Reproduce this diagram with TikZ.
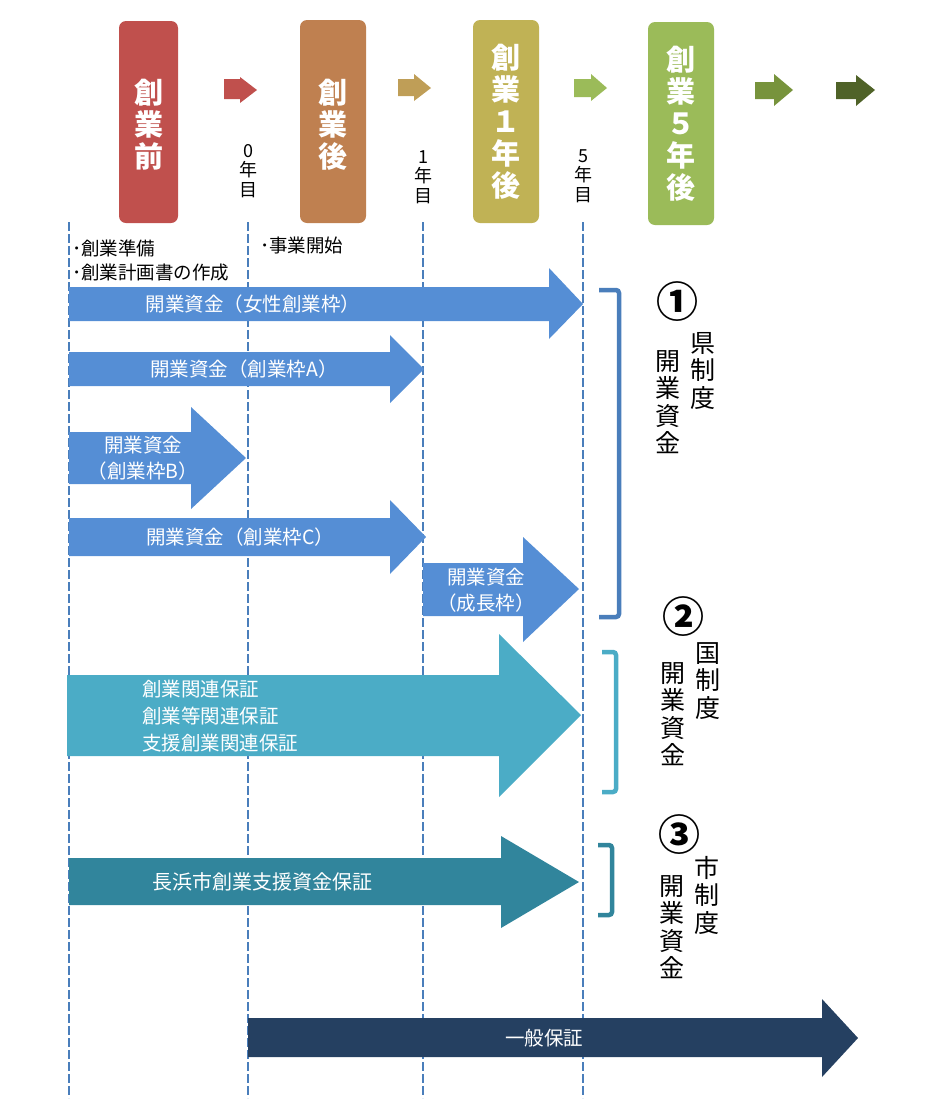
\documentclass[tikz,border=0pt]{standalone}
\usepackage{fontspec}
\setmainfont{Noto Sans CJK JP}
\definecolor{cRed}{HTML}{C0504D}
\definecolor{cBrown}{HTML}{BF8050}
\definecolor{cTan}{HTML}{BF9E57}
\definecolor{cOlive}{HTML}{C0B255}
\definecolor{cLGreen}{HTML}{9BBB59}
\definecolor{cMGreen}{HTML}{77933C}
\definecolor{cDGreen}{HTML}{4F6228}
\definecolor{cBlue}{HTML}{558ED5}
\definecolor{cTeal}{HTML}{4BACC6}
\definecolor{cDTeal}{HTML}{31859C}
\definecolor{cNavy}{HTML}{254061}
\definecolor{dashblue}{HTML}{4A7EBB}
\tikzset{
 dline/.style={draw=dashblue, line width=2.8pt, dash pattern=on 9pt off 3pt},
 stagebox/.style={rounded corners=7pt},
 boxlbl/.style={text=white, font=\bfseries\fontsize{29}{32}\selectfont, align=center, inner sep=0pt},
 yrlbl/.style={font=\fontsize{18}{19.5}\selectfont, align=center, inner sep=0pt},
 intext/.style={text=white, font=\fontsize{19.5}{26}\selectfont, align=center, inner sep=0pt},
 note/.style={font=\fontsize{18.5}{20}\selectfont, anchor=west, inner sep=0pt},
 side/.style={font=\fontsize{25}{27.5}\selectfont, align=center, inner sep=0pt},
 circ/.style={font=\bfseries\fontsize{42}{44}\selectfont, inner sep=0pt},
 brk/.style={line width=4.5pt, rounded corners=3pt},
}
\begin{document}
\begin{tikzpicture}[x=1pt,y=-1pt]
\useasboundingbox (0,0) rectangle (937,1117);
% stage boxes
\fill[cRed,stagebox] (119,21) rectangle (178,223);
\fill[cBrown,stagebox] (300,20) rectangle (366,223);
\fill[cOlive,stagebox] (473,20) rectangle (539,223);
\fill[cLGreen,stagebox] (648,22) rectangle (714,225);
\node[boxlbl] (s1) at (148.5,125) {創\\業\\前};
\node[boxlbl] (s2) at (333,125) {創\\業\\後};
\node[boxlbl] (s3) at (506,122) {創\\業\\１\\年\\後};
\node[boxlbl] (s4) at (681,124) {創\\業\\５\\年\\後};
% small arrows
\fill[cRed] (224,79) -- (240,79) -- (240,77) -- (257,90) -- (240,103) -- (240,99) -- (224,99) -- cycle;
\fill[cTan] (398,79) -- (414,79) -- (414,74) -- (431,88) -- (414,101) -- (414,96) -- (398,96) -- cycle;
\fill[cLGreen] (574,79) -- (591,79) -- (591,74) -- (607,88) -- (591,101) -- (591,97) -- (574,97) -- cycle;
\fill[cMGreen] (755,82) -- (774,82) -- (774,74) -- (793,90) -- (774,106) -- (774,99) -- (755,99) -- cycle;
\fill[cDGreen] (836,82) -- (856,82) -- (856,75) -- (875,90) -- (856,106) -- (856,99) -- (836,99) -- cycle;
% year labels
\node[yrlbl] (y0) at (248,171) {0\\年\\目};
\node[yrlbl] (y1) at (423,177) {1\\年\\目};
\node[yrlbl] (y5) at (583,176) {5\\年\\目};
% dashed lines
\foreach \n/\x in {a/69,b/248,c/423,d/583}{
  \coordinate (\n t) at (\x,222);
  \coordinate (\n b) at (\x,1098);
  \draw[dline] (\n t) -- (\n b);
}
% notes
\node[note] (n1) at (72,248) {･創業準備};
\node[note] (n2) at (72,273) {･創業計画書の作成};
\node[note] (n3) at (260,245) {･事業開始};
% big arrows
\fill[cBlue] (69,287) -- (549,287) -- (549,268) -- (583,304) -- (549,339) -- (549,321) -- (69,321) -- cycle;
\node[intext] (t1) at (253,304) {開業資金（女性創業枠）};
\fill[cBlue] (69,352) -- (390,352) -- (390,335) -- (424,369) -- (390,403) -- (390,386) -- (69,386) -- cycle;
\node[intext] (t2) at (244,369) {開業資金（創業枠A）};
\fill[cBlue] (69,432) -- (191,432) -- (191,407) -- (246,458) -- (191,509) -- (191,484) -- (69,484) -- cycle;
\node[intext] (t3) at (143,458) {開業資金\\（創業枠B）};
\fill[cBlue] (69,518) -- (390,518) -- (390,500) -- (426,537) -- (390,574) -- (390,556) -- (69,556) -- cycle;
\node[intext] (t4) at (240,537) {開業資金（創業枠C）};
\fill[cBlue] (423,563) -- (523,563) -- (523,537) -- (579,589) -- (523,642) -- (523,616) -- (423,616) -- cycle;
\node[intext] (t5) at (486,590) {開業資金\\（成長枠）};
\fill[cTeal] (67,675) -- (499,675) -- (499,634) -- (581,715) -- (499,797) -- (499,756) -- (67,756) -- cycle;
\node[intext,align=left,anchor=west,font=\fontsize{19.5}{27}\selectfont] (t6) at (142,716) {創業関連保証\\創業等関連保証\\支援創業関連保証};
\fill[cDTeal] (69,858) -- (501,858) -- (501,836) -- (579,882) -- (501,928) -- (501,905) -- (69,905) -- cycle;
\node[intext,font=\fontsize{20}{26}\selectfont] (t7) at (262,882) {長浜市創業支援資金保証};
\fill[cNavy] (248,1018) -- (822,1018) -- (822,999) -- (858,1038) -- (822,1077) -- (822,1057) -- (248,1057) -- cycle;
\node[intext] (t8) at (544,1038) {一般保証};
% brackets
\draw[brk,draw=dashblue] (599,290) -- (619,290) -- (619,617) -- (599,617);
\draw[brk,draw=cTeal] (602,652) -- (616,652) -- (616,792) -- (602,792);
\draw[brk,draw=cDTeal] (598,845) -- (612,845) -- (612,915) -- (598,915);
% side labels
\node[circ] (c1) at (677,302) {①};
\node[side] (k1) at (703,371) {県\\制\\度};
\node[side] (f1) at (668,402) {開\\業\\資\\金};
\node[circ] (c2) at (683,617) {②};
\node[side] (k2) at (708,681) {国\\制\\度};
\node[side] (f2) at (673,714) {開\\業\\資\\金};
\node[circ] (c3) at (679,835) {③};
\node[side] (k3) at (707,895) {市\\制\\度};
\node[side] (f3) at (672,927) {開\\業\\資\\金};
\end{tikzpicture}
\end{document}
